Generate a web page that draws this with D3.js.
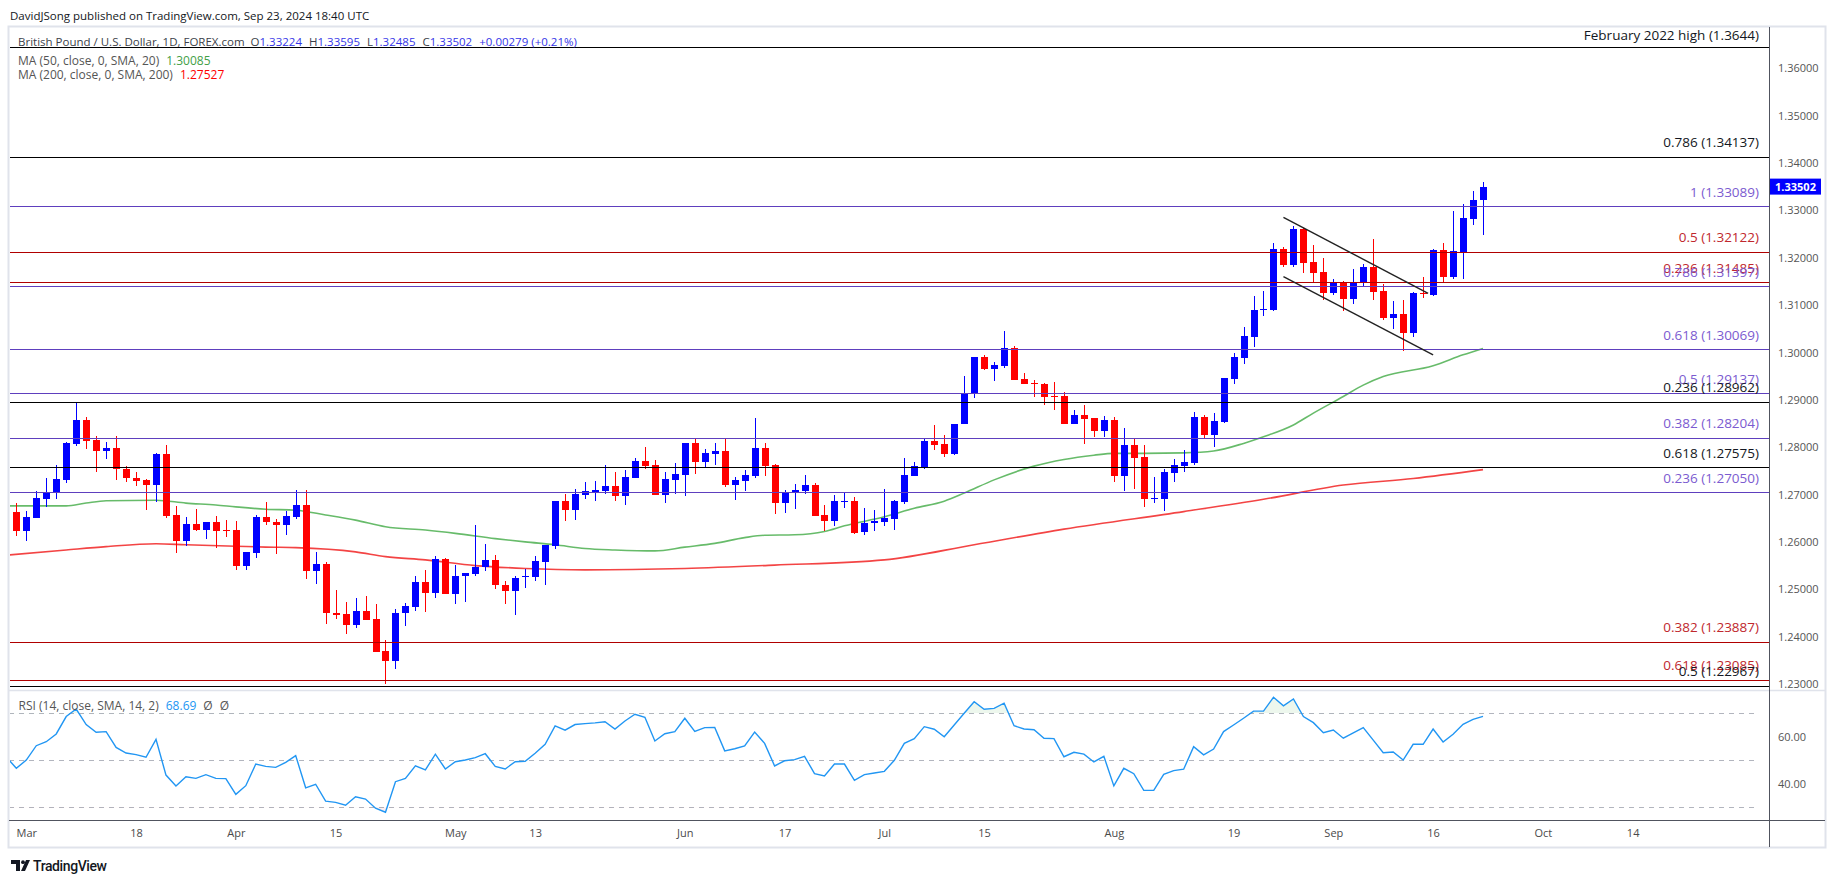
<!DOCTYPE html>
<html><head><meta charset="utf-8">
<script src="https://cdn.jsdelivr.net/npm/d3@7"></script>
<style>
body{margin:0;background:#fff;}
svg{display:block;font-family:"Open Sans",sans-serif;}
</style>
</head><body>
<svg id="c" width="1835" height="883"></svg>
<script>
// ---------- DATA ----------
// [date, open, high, low, close]
const candles = [
["2024-02-29",1.2663,1.2682,1.2613,1.2624],["2024-03-01",1.2624,1.2665,1.2601,1.2653],
["2024-03-04",1.2651,1.2708,1.2651,1.2693],["2024-03-05",1.2691,1.2735,1.2673,1.2705],
["2024-03-06",1.2705,1.2762,1.2691,1.2733],["2024-03-07",1.2731,1.2811,1.2725,1.2809],
["2024-03-08",1.2807,1.2893,1.2803,1.2857],["2024-03-11",1.2857,1.2864,1.2797,1.2814],
["2024-03-12",1.2815,1.2824,1.2748,1.2793],["2024-03-13",1.2793,1.2811,1.2775,1.2798],
["2024-03-14",1.2798,1.2824,1.2731,1.2753],["2024-03-15",1.2754,1.2760,1.2727,1.2734],
["2024-03-18",1.2735,1.2748,1.2719,1.2729],["2024-03-19",1.2731,1.2733,1.2668,1.2721],
["2024-03-20",1.2721,1.2788,1.2685,1.2786],["2024-03-21",1.2786,1.2805,1.2651,1.2655],
["2024-03-22",1.2657,1.2676,1.2577,1.2601],["2024-03-25",1.2601,1.2653,1.2592,1.2638],
["2024-03-26",1.2638,1.2670,1.2624,1.2626],["2024-03-27",1.2626,1.2642,1.2607,1.2642],
["2024-03-28",1.2642,1.2655,1.2588,1.2624],["2024-03-29",1.2625,1.2646,1.2611,1.2624],
["2024-04-01",1.2625,1.2644,1.2541,1.2550],["2024-04-02",1.2550,1.2579,1.2541,1.2579],
["2024-04-03",1.2577,1.2657,1.2565,1.2653],["2024-04-04",1.2653,1.2684,1.2636,1.2641],
["2024-04-05",1.2642,1.2648,1.2575,1.2636],["2024-04-08",1.2636,1.2665,1.2615,1.2655],
["2024-04-09",1.2653,1.2710,1.2648,1.2678],["2024-04-10",1.2678,1.2709,1.2522,1.2539],
["2024-04-11",1.2539,1.2579,1.2512,1.2553],["2024-04-12",1.2553,1.2558,1.2427,1.2449],
["2024-04-15",1.2450,1.2499,1.2438,1.2446],["2024-04-16",1.2448,1.2473,1.2406,1.2425],
["2024-04-17",1.2425,1.2482,1.2419,1.2454],["2024-04-18",1.2454,1.2486,1.2436,1.2436],
["2024-04-19",1.2437,1.2469,1.2368,1.2368],["2024-04-22",1.2370,1.2393,1.2301,1.2349],
["2024-04-23",1.2349,1.2458,1.2332,1.2450],["2024-04-24",1.2449,1.2471,1.2423,1.2465],
["2024-04-25",1.2463,1.2528,1.2455,1.2515],["2024-04-26",1.2515,1.2541,1.2451,1.2493],
["2024-04-29",1.2493,1.2570,1.2482,1.2564],["2024-04-30",1.2564,1.2566,1.2491,1.2491],
["2024-05-01",1.2491,1.2551,1.2468,1.2528],["2024-05-02",1.2527,1.2534,1.2473,1.2534],
["2024-05-03",1.2533,1.2635,1.2527,1.2547],["2024-05-06",1.2546,1.2596,1.2539,1.2562],
["2024-05-07",1.2562,1.2572,1.2501,1.2508],["2024-05-08",1.2509,1.2518,1.2469,1.2497],
["2024-05-09",1.2497,1.2528,1.2446,1.2524],["2024-05-10",1.2525,1.2543,1.2503,1.2527],
["2024-05-13",1.2525,1.2570,1.2518,1.2560],["2024-05-14",1.2558,1.2594,1.2510,1.2594],
["2024-05-15",1.2592,1.2686,1.2585,1.2686],["2024-05-16",1.2686,1.2701,1.2645,1.2668],
["2024-05-17",1.2668,1.2712,1.2647,1.2701],["2024-05-20",1.2700,1.2727,1.2691,1.2708],
["2024-05-21",1.2705,1.2729,1.2687,1.2710],["2024-05-22",1.2708,1.2762,1.2701,1.2718],
["2024-05-23",1.2718,1.2748,1.2687,1.2698],["2024-05-24",1.2698,1.2752,1.2677,1.2737],
["2024-05-27",1.2736,1.2777,1.2736,1.2771],["2024-05-28",1.2771,1.2800,1.2755,1.2760],
["2024-05-29",1.2762,1.2773,1.2700,1.2700],["2024-05-30",1.2700,1.2748,1.2683,1.2733],
["2024-05-31",1.2731,1.2767,1.2702,1.2743],["2024-06-03",1.2742,1.2809,1.2696,1.2809],
["2024-06-04",1.2809,1.2817,1.2744,1.2769],["2024-06-05",1.2769,1.2796,1.2758,1.2788],
["2024-06-06",1.2786,1.2809,1.2763,1.2792],["2024-06-07",1.2792,1.2819,1.2717,1.2721],
["2024-06-10",1.2721,1.2737,1.2689,1.2731],["2024-06-11",1.2729,1.2752,1.2708,1.2741],
["2024-06-12",1.2740,1.2862,1.2734,1.2798],["2024-06-13",1.2798,1.2809,1.2739,1.2760],
["2024-06-14",1.2762,1.2765,1.2658,1.2683],["2024-06-17",1.2683,1.2710,1.2660,1.2705],
["2024-06-18",1.2705,1.2722,1.2670,1.2710],["2024-06-19",1.2708,1.2741,1.2702,1.2720],
["2024-06-20",1.2720,1.2724,1.2655,1.2655],["2024-06-21",1.2657,1.2677,1.2624,1.2645],
["2024-06-24",1.2645,1.2699,1.2634,1.2686],["2024-06-25",1.2684,1.2705,1.2672,1.2687],
["2024-06-26",1.2686,1.2695,1.2617,1.2619],["2024-06-27",1.2620,1.2672,1.2615,1.2640],
["2024-06-28",1.2639,1.2667,1.2622,1.2644],["2024-07-01",1.2643,1.2712,1.2634,1.2651],
["2024-07-02",1.2648,1.2689,1.2626,1.2686],["2024-07-03",1.2685,1.2777,1.2679,1.2741],
["2024-07-04",1.2740,1.2769,1.2740,1.2760],["2024-07-05",1.2758,1.2817,1.2755,1.2813],
["2024-07-08",1.2813,1.2847,1.2794,1.2805],["2024-07-09",1.2807,1.2826,1.2780,1.2786],
["2024-07-10",1.2786,1.2849,1.2784,1.2849],["2024-07-11",1.2848,1.2950,1.2848,1.2914],
["2024-07-12",1.2913,1.2990,1.2903,1.2990],["2024-07-15",1.2990,1.2995,1.2963,1.2965],
["2024-07-16",1.2965,1.2980,1.2940,1.2973],["2024-07-17",1.2971,1.3045,1.2967,1.3009],
["2024-07-18",1.3009,1.3014,1.2942,1.2942],["2024-07-19",1.2944,1.2957,1.2933,1.2933],
["2024-07-22",1.2936,1.2942,1.2906,1.2935],["2024-07-23",1.2933,1.2936,1.2889,1.2906],
["2024-07-24",1.2908,1.2938,1.2879,1.2906],["2024-07-25",1.2908,1.2917,1.2849,1.2849],
["2024-07-26",1.2849,1.2879,1.2849,1.2868],["2024-07-29",1.2868,1.2889,1.2807,1.2860],
["2024-07-30",1.2862,1.2862,1.2822,1.2834],["2024-07-31",1.2834,1.2866,1.2822,1.2857],
["2024-08-01",1.2857,1.2864,1.2727,1.2740],["2024-08-02",1.2740,1.2841,1.2708,1.2805],
["2024-08-05",1.2805,1.2817,1.2712,1.2778],["2024-08-06",1.2779,1.2805,1.2674,1.2691],
["2024-08-07",1.2691,1.2737,1.2682,1.2693],["2024-08-08",1.2691,1.2754,1.2665,1.2748],
["2024-08-09",1.2746,1.2775,1.2727,1.2762],["2024-08-12",1.2761,1.2794,1.2748,1.2768],
["2024-08-13",1.2767,1.2874,1.2763,1.2864],["2024-08-14",1.2864,1.2868,1.2818,1.2826],
["2024-08-15",1.2826,1.2872,1.2801,1.2855],["2024-08-16",1.2853,1.2946,1.2851,1.2946],
["2024-08-19",1.2944,1.2999,1.2933,1.2990],["2024-08-20",1.2988,1.3054,1.2976,1.3035],
["2024-08-21",1.3033,1.3119,1.3012,1.3090],["2024-08-22",1.3090,1.3130,1.3077,1.3092],
["2024-08-23",1.3090,1.3231,1.3088,1.3219],["2024-08-26",1.3219,1.3223,1.3181,1.3185],
["2024-08-27",1.3185,1.3267,1.3181,1.3261],["2024-08-28",1.3261,1.3263,1.3168,1.3189],
["2024-08-29",1.3191,1.3227,1.3149,1.3168],["2024-08-30",1.3170,1.3200,1.3111,1.3126],
["2024-09-02",1.3126,1.3155,1.3121,1.3149],["2024-09-03",1.3149,1.3151,1.3088,1.3113],
["2024-09-04",1.3113,1.3176,1.3102,1.3149],["2024-09-05",1.3147,1.3187,1.3138,1.3181],
["2024-09-06",1.3181,1.3240,1.3111,1.3128],["2024-09-09",1.3130,1.3145,1.3069,1.3073],
["2024-09-10",1.3073,1.3109,1.3050,1.3081],["2024-09-11",1.3081,1.3111,1.3003,1.3041],
["2024-09-12",1.3041,1.3128,1.3033,1.3126],["2024-09-13",1.3126,1.3159,1.3115,1.3124],
["2024-09-16",1.3121,1.3219,1.3119,1.3216],["2024-09-17",1.3216,1.3231,1.3149,1.3159],
["2024-09-18",1.3159,1.3299,1.3155,1.3214],["2024-09-19",1.3212,1.3314,1.3155,1.3284],
["2024-09-20",1.3282,1.3341,1.3269,1.3322],["2024-09-23",1.33224,1.33595,1.32485,1.33502]
];

const ma50 = [
["2024-02-28",1.2676],["2024-02-29",1.2676],["2024-03-07",1.2676],["2024-03-11",1.2682],
["2024-03-13",1.2687],["2024-03-20",1.2688],["2024-03-25",1.2682],["2024-03-28",1.2678],
["2024-04-01",1.2674],["2024-04-04",1.2669],["2024-04-09",1.2667],["2024-04-12",1.2657],
["2024-04-17",1.2646],["2024-04-22",1.2632],["2024-04-26",1.2625],["2024-05-01",1.2618],
["2024-05-07",1.2607],["2024-05-10",1.2600],["2024-05-15",1.2594],["2024-05-20",1.2586],
["2024-05-23",1.2583],["2024-05-29",1.2581],["2024-06-03",1.2589],["2024-06-06",1.2597],
["2024-06-11",1.2609],["2024-06-13",1.2614],["2024-06-18",1.2615],["2024-06-21",1.2622],
["2024-06-25",1.2634],["2024-07-01",1.2653],["2024-07-04",1.2671],["2024-07-09",1.2686],
["2024-07-11",1.2703],["2024-07-16",1.2731],["2024-07-22",1.2760],["2024-07-25",1.2774],
["2024-07-30",1.2783],["2024-08-01",1.2787],["2024-08-06",1.2787],["2024-08-12",1.2788],
["2024-08-15",1.2792],["2024-08-20",1.2808],["2024-08-22",1.2822],["2024-08-27",1.2847],
["2024-08-29",1.2872],["2024-09-03",1.2907],["2024-09-05",1.2931],["2024-09-09",1.2949],
["2024-09-16",1.2972],["2024-09-19",1.2995],["2024-09-23",1.30085]
];

const ma200 = [
["2024-02-28",1.2572],["2024-03-07",1.2583],["2024-03-13",1.2590],["2024-03-20",1.2596],
["2024-03-25",1.2594],["2024-04-01",1.2591],["2024-04-04",1.2589],["2024-04-09",1.2588],
["2024-04-17",1.2579],["2024-04-22",1.2569],["2024-04-26",1.2562],["2024-05-03",1.2550],
["2024-05-10",1.2544],["2024-05-20",1.2541],["2024-06-03",1.2544],["2024-06-14",1.2551],
["2024-07-01",1.2562],["2024-07-12",1.2594],["2024-07-25",1.2627],["2024-08-12",1.2664],
["2024-08-22",1.2690],["2024-09-03",1.2720],["2024-09-12",1.2734],["2024-09-23",1.27527]
];

const rsi = [
["2024-02-28",51.4],["2024-02-29",46.6],["2024-03-01",50.1],["2024-03-04",56.2],["2024-03-05",57.9],
["2024-03-06",61.2],["2024-03-07",68.6],["2024-03-08",71.8],["2024-03-11",65.2],["2024-03-12",61.9],
["2024-03-13",62.2],["2024-03-14",55.5],["2024-03-15",53.1],["2024-03-18",52.4],["2024-03-19",51.3],
["2024-03-20",58.9],["2024-03-21",43.7],["2024-03-22",39.1],["2024-03-25",43.0],["2024-03-26",42.3],
["2024-03-27",43.9],["2024-03-28",42.3],["2024-03-29",42.2],["2024-04-01",35.5],["2024-04-02",39.2],
["2024-04-03",48.4],["2024-04-04",47.4],["2024-04-05",47.0],["2024-04-08",49.1],["2024-04-09",52.0],
["2024-04-10",38.3],["2024-04-11",39.8],["2024-04-12",32.6],["2024-04-15",32.1],["2024-04-16",30.9],
["2024-04-17",34.5],["2024-04-18",33.5],["2024-04-19",29.6],["2024-04-22",27.9],["2024-04-23",40.9],
["2024-04-24",42.3],["2024-04-25",47.6],["2024-04-26",45.9],["2024-04-29",52.6],["2024-04-30",46.3],
["2024-05-01",49.4],["2024-05-02",50.1],["2024-05-03",51.1],["2024-05-06",52.8],["2024-05-07",47.4],
["2024-05-08",46.3],["2024-05-09",49.4],["2024-05-10",49.6],["2024-05-13",53.0],["2024-05-14",56.8],
["2024-05-15",64.6],["2024-05-16",62.8],["2024-05-17",65.2],["2024-05-20",65.6],["2024-05-21",65.9],
["2024-05-22",66.4],["2024-05-23",63.3],["2024-05-24",66.7],["2024-05-27",69.6],["2024-05-28",68.3],
["2024-05-29",58.2],["2024-05-30",61.3],["2024-05-31",62.2],["2024-06-03",67.9],["2024-06-04",62.3],
["2024-06-05",63.9],["2024-06-06",64.0],["2024-06-07",54.0],["2024-06-10",54.9],["2024-06-11",56.1],
["2024-06-12",62.0],["2024-06-13",57.2],["2024-06-14",47.6],["2024-06-17",49.8],["2024-06-18",50.3],
["2024-06-19",51.7],["2024-06-20",44.3],["2024-06-21",43.3],["2024-06-24",48.4],["2024-06-25",48.4],
["2024-06-26",41.5],["2024-06-27",43.9],["2024-06-28",44.6],["2024-07-01",45.3],["2024-07-02",50.0],
["2024-07-03",57.2],["2024-07-04",59.2],["2024-07-05",64.3],["2024-07-08",63.2],["2024-07-09",60.0],
["2024-07-10",65.0],["2024-07-11",70.0],["2024-07-12",74.9],["2024-07-15",71.7],["2024-07-16",72.1],
["2024-07-17",74.3],["2024-07-18",64.7],["2024-07-19",63.3],["2024-07-22",63.0],["2024-07-23",59.4],
["2024-07-24",59.2],["2024-07-25",51.5],["2024-07-26",53.4],["2024-07-29",52.6],["2024-07-30",49.3],
["2024-07-31",51.7],["2024-08-01",39.1],["2024-08-02",46.6],["2024-08-05",44.3],["2024-08-06",37.2],
["2024-08-07",37.2],["2024-08-08",44.0],["2024-08-09",45.6],["2024-08-12",46.2],["2024-08-13",55.8],
["2024-08-14",52.3],["2024-08-15",54.8],["2024-08-16",62.2],["2024-08-19",65.0],["2024-08-20",67.9],
["2024-08-21",70.9],["2024-08-22",70.9],["2024-08-23",76.8],["2024-08-26",73.2],["2024-08-27",76.1],
["2024-08-28",68.6],["2024-08-29",66.0],["2024-08-30",61.7],["2024-09-02",62.9],["2024-09-03",59.4],
["2024-09-04",61.7],["2024-09-05",63.9],["2024-09-06",58.6],["2024-09-09",53.2],["2024-09-10",53.5],
["2024-09-11",50.1],["2024-09-12",56.8],["2024-09-13",56.8],["2024-09-16",63.3],["2024-09-17",57.8],
["2024-09-18",61.1],["2024-09-19",65.3],["2024-09-20",67.4],["2024-09-23",68.69]
];

const fibLevels = [
{v:1.3644, label:"February 2022 high (1.3644)", kind:"black"},
{v:1.34137, label:"0.786 (1.34137)", kind:"black"},
{v:1.33089, label:"1 (1.33089)", kind:"purple"},
{v:1.32122, label:"0.5 (1.32122)", kind:"red"},
{v:1.31485, label:"0.236 (1.31485)", kind:"red"},
{v:1.31397, label:"0.786 (1.31397)", kind:"purple"},
{v:1.30069, label:"0.618 (1.30069)", kind:"purple"},
{v:1.29137, label:"0.5 (1.29137)", kind:"purple"},
{v:1.28962, label:"0.236 (1.28962)", kind:"black"},
{v:1.28204, label:"0.382 (1.28204)", kind:"purple"},
{v:1.27575, label:"0.618 (1.27575)", kind:"black"},
{v:1.27050, label:"0.236 (1.27050)", kind:"purple"},
{v:1.23887, label:"0.382 (1.23887)", kind:"red"},
{v:1.23085, label:"0.618 (1.23085)", kind:"red"},
{v:1.22967, label:"0.5 (1.22967)", kind:"black"}
];

// channel trendlines: [date, bar offset, price] pairs
const channelUpper = [["2024-08-26",0,1.3285],["2024-09-13",0.5,1.3125]];
const channelLower = [["2024-08-26",0,1.3160],["2024-09-16",0,1.2995]];

const priceTicks = [1.23,1.24,1.25,1.26,1.27,1.28,1.29,1.30,1.31,1.32,1.33,1.34,1.35,1.36];
const rsiTicks = [40,60];
const rsiBands = [70,50,30];
const timeTicks = [["2024-03-01","Mar"],["2024-03-18","18"],["2024-04-01","Apr"],["2024-04-15","15"],
["2024-05-01","May"],["2024-05-13","13"],["2024-06-03","Jun"],["2024-06-17","17"],["2024-07-01","Jul"],
["2024-07-15","15"],["2024-08-01","Aug"],["2024-08-19","19"],["2024-09-02","Sep"],["2024-09-16","16"],
["2024-10-01","Oct"],["2024-10-14","14"]];

const lastPrice = 1.33502;
const headerAuthor = "DavidJSong published on TradingView.com, Sep 23, 2024 18:40 UTC";
const headerSymbol = "British Pound / U.S. Dollar, 1D, FOREX.com";
const headerOHLC = [["O","1.33224"],["H","1.33595"],["L","1.32485"],["C","1.33502"]];
const headerChange = "+0.00279 (+0.21%)";

// ---------- LAYOUT ----------
const W=1835,H=883;
const L=9, R=1769, AX=1825, TOP=27, PB=690, RB=820, BOT=847;
const DAY=864e5, base=Date.UTC(2024,2,1);
function barIndex(s){
  const t=Date.parse(s+"T00:00:00Z"); let n=0;
  if(t>=base){ for(let d=base+DAY; d<=t; d+=DAY){const w=new Date(d).getUTCDay(); if(w!==0&&w!==6) n++;} }
  else { for(let d=t; d<base; d+=DAY){const w=new Date(d).getUTCDay(); if(w!==0&&w!==6) n--;} }
  return n;
}
const x = d3.scaleLinear().domain([0,146]).range([26.3,1483]);
const y = d3.scaleLinear().domain([1.23,1.36]).range([684,68.3]);
const yR = d3.scaleLinear().domain([24.6,79.9]).range([RB,PB]);

const svg = d3.select("#c");
const defs = svg.append("defs");
defs.append("clipPath").attr("id","cp").append("rect").attr("x",L+1).attr("y",TOP+1).attr("width",R-L-1).attr("height",PB-TOP-1);
defs.append("clipPath").attr("id","cr").append("rect").attr("x",L+1).attr("y",PB+1).attr("width",R-L-1).attr("height",RB-PB-1);
defs.append("clipPath").attr("id","cob").append("rect").attr("x",L+1).attr("y",PB+1).attr("width",R-L-1).attr("height",yR(70)-PB-1);
defs.append("clipPath").attr("id","cos").append("rect").attr("x",L+1).attr("y",yR(30)).attr("width",R-L-1).attr("height",RB-yR(30));

svg.append("rect").attr("width",W).attr("height",H).attr("fill","#fff");

// header author
svg.append("text").attr("x",10).attr("y",19.5).attr("font-size",11.5).attr("fill","#131722").text(headerAuthor);

// frame
svg.append("rect").attr("x",L-0.5).attr("y",TOP-0.5).attr("width",AX-L+1).attr("height",BOT-TOP+1)
  .attr("fill","none").attr("stroke","#e0e3eb").attr("stroke-width",2);

// ---------- PRICE PANE ----------
const gp = svg.append("g").attr("clip-path","url(#cp)");

const ma = d3.line().x(d=>x(barIndex(d[0]))).y(d=>y(d[1])).curve(d3.curveMonotoneX);
gp.append("path").attr("d",ma(ma50)).attr("fill","none").attr("stroke","#4caf50").attr("stroke-opacity",0.85).attr("stroke-width",1.6);
gp.append("path").attr("d",ma(ma200)).attr("fill","none").attr("stroke","#f23030").attr("stroke-opacity",0.9).attr("stroke-width",1.6);

const cg = gp.append("g").attr("shape-rendering","crispEdges");
candles.forEach(c=>{
  const [d,o,h,l,cl]=c; const xc=Math.round(x(barIndex(d)));
  const col = cl>=o ? "#0000ff" : "#ff0000";
  cg.append("line").attr("x1",xc+0.5).attr("x2",xc+0.5).attr("y1",y(h)).attr("y2",y(l)).attr("stroke",col).attr("stroke-width",1);
  const top=y(Math.max(o,cl)), bot=y(Math.min(o,cl));
  cg.append("rect").attr("x",xc-3).attr("width",7).attr("y",top).attr("height",Math.max(1,bot-top)).attr("fill",col);
});

const fibColors = {black:{line:"#000000",text:"#131722"}, purple:{line:"#5e3fbe",text:"#7b5bd0"}, red:{line:"#b00000",text:"#c0282d"}};
fibLevels.forEach(f=>{
  const yy=Math.round(y(f.v))+0.5;
  gp.append("line").attr("x1",L).attr("x2",R).attr("y1",yy).attr("y2",yy).attr("stroke",fibColors[f.kind].line).attr("stroke-width",1.2);
});

const tl = d3.line().x(d=>x(barIndex(d[0])+d[1])).y(d=>y(d[2]));
[channelUpper,channelLower].forEach(ch=>{
  gp.append("path").attr("d",tl(ch)).attr("stroke","#222").attr("stroke-width",1.4).attr("fill","none");
});

fibLevels.forEach(f=>{
  const yy=y(f.v);
  const off = f.label.startsWith("February") ? 7.5 : 9.5;
  svg.append("text").attr("x",1759).attr("y",yy-off).attr("text-anchor","end").attr("font-size",13.5)
    .attr("fill",fibColors[f.kind].text).text(f.label);
});

// header symbol line (single text, tspans flow so nothing overlaps)
const hs = svg.append("text").attr("x",18).attr("y",45.5).attr("font-size",11.5).attr("fill","#3c3f4a");
hs.append("tspan").text(headerSymbol);
headerOHLC.forEach((p,i)=>{
  hs.append("tspan").attr("dx",i===0?6:7).attr("fill","#3c3f4a").text(p[0]);
  hs.append("tspan").attr("fill","#3535e8").text(p[1]);
});
hs.append("tspan").attr("dx",7).attr("fill","#3535e8").text(headerChange);

const l1=svg.append("text").attr("x",18).attr("y",64.5).attr("font-size",12).attr("fill","#555");
l1.append("tspan").text("MA (50, close, 0, SMA, 20)");
l1.append("tspan").attr("dx",7).attr("fill","#43a047").text("1.30085");
const l2=svg.append("text").attr("x",18).attr("y",78.5).attr("font-size",12).attr("fill","#555");
l2.append("tspan").text("MA (200, close, 0, SMA, 200)");
l2.append("tspan").attr("dx",7).attr("fill","#f00").text("1.27527");

// ---------- RSI PANE ----------
const gr = svg.append("g").attr("clip-path","url(#cr)");
rsiBands.forEach(b=>{
  gr.append("line").attr("x1",L).attr("x2",R-12).attr("y1",Math.round(yR(b))+0.5).attr("y2",Math.round(yR(b))+0.5)
    .attr("stroke","#b2b5be").attr("stroke-dasharray","5,5").attr("stroke-width",1);
});
const rsiPts = rsi.map(d=>({i:barIndex(d[0]),v:d[1]}));
gr.append("path").attr("clip-path","url(#cob)")
  .attr("d",d3.area().x(d=>x(d.i)).y0(yR(70)).y1(d=>yR(d.v))(rsiPts)).attr("fill","rgba(76,175,80,0.10)");
gr.append("path").attr("clip-path","url(#cos)")
  .attr("d",d3.area().x(d=>x(d.i)).y0(yR(30)).y1(d=>yR(d.v))(rsiPts)).attr("fill","rgba(242,54,69,0.08)");
gr.append("path").attr("d",d3.line().x(d=>x(d.i)).y(d=>yR(d.v))(rsiPts)).attr("fill","none").attr("stroke","#2196f3").attr("stroke-width",1.4);

const rl=svg.append("text").attr("x",18.6).attr("y",710).attr("font-size",12).attr("fill","#555");
rl.append("tspan").text("RSI (14, close, SMA, 14, 2)");
rl.append("tspan").attr("dx",7).attr("fill","#2196f3").text("68.69");
rl.append("tspan").attr("dx",7).text("\u00D8");
rl.append("tspan").attr("dx",7).text("\u00D8");

// ---------- SEPARATORS ----------
svg.append("line").attr("x1",L).attr("x2",AX).attr("y1",PB+0.5).attr("y2",PB+0.5).attr("stroke","#e0e3eb").attr("stroke-width",1.5);
svg.append("line").attr("x1",L).attr("x2",AX).attr("y1",RB+0.5).attr("y2",RB+0.5).attr("stroke","#50535e").attr("stroke-width",1);
svg.append("line").attr("x1",R+0.5).attr("x2",R+0.5).attr("y1",TOP).attr("y2",BOT).attr("stroke","#50535e").attr("stroke-width",1);

// ---------- AXES ----------
const pa = svg.append("g").attr("transform",`translate(${R},0)`)
  .call(d3.axisRight(y).tickValues(priceTicks).tickFormat(d3.format(".5f")).tickSize(0).tickPadding(9));
pa.select(".domain").remove();
pa.selectAll("text").attr("font-family","Open Sans").attr("font-size",11).attr("fill","#555");

const ra = svg.append("g").attr("transform",`translate(${R},0)`)
  .call(d3.axisRight(yR).tickValues(rsiTicks).tickFormat(d3.format(".2f")).tickSize(0).tickPadding(9));
ra.select(".domain").remove();
ra.selectAll("text").attr("font-family","Open Sans").attr("font-size",11).attr("fill","#555");

const ta = svg.append("g").attr("transform",`translate(0,${RB})`)
  .call(d3.axisBottom(x).tickValues(timeTicks.map(t=>barIndex(t[0]))).tickFormat((d,i)=>timeTicks[i][1]).tickSize(0).tickPadding(9));
ta.select(".domain").remove();
ta.selectAll("text").attr("font-family","Open Sans").attr("font-size",11).attr("fill","#4a4a4a");

// last price box
const ly=y(lastPrice);
svg.append("rect").attr("x",R+1).attr("y",ly-8).attr("width",51).attr("height",16).attr("fill","#0000ff");
svg.append("text").attr("x",R+26.5).attr("y",ly+4).attr("text-anchor","middle").attr("font-size",11).attr("font-weight",700).attr("fill","#fff").text(d3.format(".5f")(lastPrice));

// ---------- FOOTER LOGO ----------
const lg = svg.append("g").attr("fill","#131722");
lg.append("path").attr("d","M11,860 h9 v11 h-4 v-7 h-5 z");
lg.append("circle").attr("cx",23).attr("cy",862.2).attr("r",1.9);
lg.append("path").attr("d","M21,871 l5,-11 h4 l-5,11 z");
svg.append("text").attr("x",33).attr("y",871).attr("font-family","Roboto").attr("font-size",14).attr("font-weight",500)
  .attr("letter-spacing","-0.4").attr("fill","#131722").text("TradingView");
</script>
</body></html>
